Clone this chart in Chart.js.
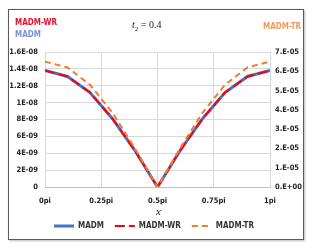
<!DOCTYPE html>
<html>
<head>
<meta charset="utf-8">
<script src="https://cdn.jsdelivr.net/npm/chart.js@4.4.1/dist/chart.umd.min.js"></script>
<style>
  html, body { margin: 0; padding: 0; background: #fff; }
  #wrap { position: relative; width: 315px; height: 252px; overflow: hidden; }
  #frame { position: absolute; left: 8px; top: 9px; width: 294px; height: 229px; border: 1.5px solid #5a5a5a; box-shadow: 1px 1px 2px #bbb; }
  canvas { position: absolute; left: 0; top: 0; }
  .lbl { position: absolute; font-family: "Liberation Sans Narrow", "DejaVu Sans Condensed", "Liberation Sans", sans-serif; font-weight: bold; font-size: 8px; line-height: 10px; }
  #title { position: absolute; left: 132px; top: 19px; font-family: "Liberation Serif", serif; font-size: 10px; line-height: 12px; color: #222; }
  #xtitle { position: absolute; left: 156px; top: 205px; font-family: "Liberation Serif", serif; font-style: italic; font-size: 11px; line-height: 12px; color: #222; }
</style>
</head>
<body>
<div id="wrap">
  <div id="frame"></div>
  <canvas id="chart" width="315" height="252"></canvas>
  <div class="lbl" style="left:15px; top:18px; color:#e8102a;">MADM-WR</div>
  <div class="lbl" style="left:15px; top:30px; color:#7a92d6;">MADM</div>
  <div class="lbl" style="left:263px; top:22px; color:#f29a5c;">MADM-TR</div>
  <div id="title"><i>t</i><sub style="font-size:7px">2</sub> = 0.4</div>
  <div id="xtitle">x</div>
</div>
<script>
// x positions in units of pi
const xpos = [0, 0.1, 0.2, 0.3, 0.4, 0.5, 0.6, 0.7, 0.8, 0.9, 1.0];
const madm = [1.38e-8, 1.31e-8, 1.12e-8, 0.81e-8, 0.43e-8, 0, 0.43e-8, 0.81e-8, 1.12e-8, 1.31e-8, 1.38e-8];
const madmWR = [1.38e-8, 1.31e-8, 1.12e-8, 0.81e-8, 0.43e-8, 0, 0.43e-8, 0.81e-8, 1.12e-8, 1.31e-8, 1.38e-8];
const madmTR = [6.5e-5, 6.2e-5, 5.3e-5, 3.85e-5, 2.0e-5, 0, 2.0e-5, 3.85e-5, 5.3e-5, 6.2e-5, 6.5e-5];
const xticks = [0, 0.25, 0.5, 0.75, 1];

function pts(arr) {
  return arr.map((v, i) => ({ x: xpos[i], y: v }));
}

function leftFmt(v) {
  if (v === 0) return "0";
  if (v >= 1e-8 - 1e-12) {
    let m = Math.round(v / 1e-9) / 10;
    return m + "E-08";
  }
  return Math.round(v / 1e-9) + "E-09";
}

const tickFont = { family: "'Liberation Sans Narrow', 'DejaVu Sans Condensed', 'Liberation Sans', sans-serif", size: 7.5, weight: "bold" };
const legendFont = { family: "'Liberation Sans Narrow', 'DejaVu Sans Condensed', 'Liberation Sans', sans-serif", size: 8, weight: "bold" };

const ctx = document.getElementById("chart").getContext("2d");
const myChart = new Chart(ctx, {
  type: "line",
  data: {
    datasets: [
      {
        label: "MADM",
        data: pts(madm),
        yAxisID: "y",
        borderColor: "#4472c4",
        borderWidth: 3,
        pointRadius: 0,
        tension: 0,
        order: 2,
      },
      {
        label: "MADM-WR",
        data: pts(madmWR),
        yAxisID: "y",
        borderColor: "#ff0000",
        borderWidth: 2,
        borderDash: [10, 4],
        pointRadius: 0,
        tension: 0,
        order: 1,
      },
      {
        label: "MADM-TR",
        data: pts(madmTR),
        yAxisID: "y2",
        borderColor: "#ed7d31",
        borderWidth: 2,
        borderDash: [6, 4],
        pointRadius: 0,
        tension: 0,
        order: 0,
      },
    ],
  },
  options: {
    responsive: false,
    animation: false,
    layout: { padding: { left: 10, right: 12, top: 52, bottom: 12 } },
    plugins: {
      legend: {
        position: "bottom",
        labels: {
          usePointStyle: true,
          pointStyleWidth: 20,
          padding: 6,
          color: "#333",
          font: legendFont,
          generateLabels: (chart) =>
            chart.data.datasets.map((d, i) => ({
              text: d.label + "  ",
              strokeStyle: d.borderColor,
              fillStyle: d.borderColor,
              lineWidth: d.borderWidth,
              lineDash: d.borderDash || [],
              pointStyle: "line",
              hidden: false,
              datasetIndex: i,
              fontColor: "#333",
            })),
        },
      },
      tooltip: { enabled: false },
    },
    scales: {
      x: {
        type: "linear",
        min: 0,
        max: 1,
        afterBuildTicks: (s) => { s.ticks = xticks.map((v) => ({ value: v })); },
        ticks: { color: "#222", font: tickFont, padding: 10, callback: (v) => v + "pi" },
        grid: { color: "#d9d9d9", drawTicks: false },
        border: { color: "#bfbfbf" },
      },
      y: {
        position: "left",
        min: 0,
        max: 1.6e-8,
        afterBuildTicks: (s) => {
          const t = [];
          for (let i = 0; i <= 8; i++) t.push({ value: i * 2e-9 });
          s.ticks = t;
        },
        afterFit: (s) => { s.width = 35; },
        ticks: { color: "#222", font: tickFont, padding: 7, callback: leftFmt },
        grid: { color: "#d9d9d9", drawTicks: false },
        border: { display: false },
      },
      y2: {
        position: "right",
        min: 0,
        max: 7e-5,
        afterBuildTicks: (s) => {
          const t = [];
          for (let i = 0; i <= 7; i++) t.push({ value: i * 1e-5 });
          s.ticks = t;
        },
        afterFit: (s) => { s.width = 33; },
        ticks: {
          color: "#222",
          font: tickFont,
          padding: 5,
          callback: (v) => (v === 0 ? "0.E+00" : Math.round(v / 1e-5) + ".E-05"),
        },
        grid: { display: false, drawTicks: false },
        border: { display: false },
      },
    },
  },
});
</script>
</body>
</html>
